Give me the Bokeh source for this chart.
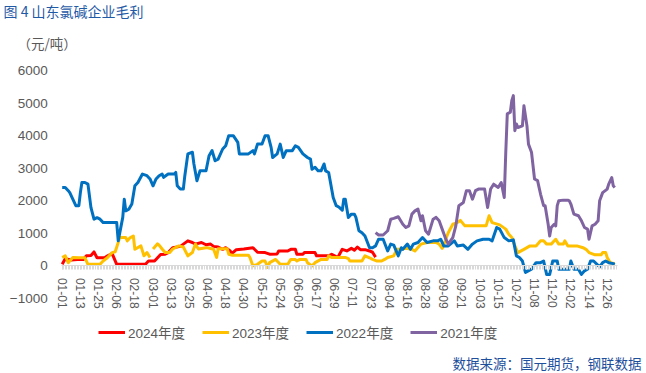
import pandas as pd
from bokeh.plotting import figure
from bokeh.models import Range1d, FixedTicker, Legend, LegendItem, Label
from bokeh.embed import file_html
from bokeh.resources import INLINE

# ---------------- data ----------------
dates = [d.strftime("%m-%d") for d in pd.date_range("2024-01-01", "2024-12-31")]
label_days = list(range(0, 366, 12))
y_ticks = [-1000, 0, 1000, 2000, 3000, 4000, 5000, 6000]

# day-of-year index (0 = 01-01) and gross margin (元/吨)
y2024_day = [0, 2, 6, 10, 14, 16, 19, 21, 23, 28, 30, 33, 36, 55, 57, 61, 65, 68, 70, 73, 78, 83, 86,
             88, 92, 95, 98, 100, 103, 106, 108, 111, 112, 115, 120, 126, 129, 134, 137, 142, 143, 149,
             151, 154, 155, 159, 160, 167, 168, 176, 178, 182, 185, 188, 191, 193, 195, 197, 200, 203,
             205, 207]
y2024_val = [50, 220, 180, 200, 200, 310, 320, 430, 250, 250, 310, 380, 50, 50, 150, 150, 350, 360, 410,
             560, 600, 770, 720, 670, 720, 650, 670, 600, 580, 510, 560, 460, 380, 500, 520, 560, 420, 410,
             360, 370, 460, 460, 510, 510, 360, 360, 410, 410, 310, 310, 360, 260, 510, 460, 540, 480, 580,
             500, 500, 460, 420, 270]

y2023_day = [0, 2, 4, 7, 11, 15, 17, 25, 27, 30, 33, 35, 37, 38, 42, 43, 45, 47, 48, 52, 54, 56, 58, 59,
             60, 63, 64, 66, 68, 71, 73, 77, 80, 83, 86, 88, 90, 95, 96, 100, 102, 103, 109, 110, 112, 123,
             124, 126, 129, 132, 134, 136, 137, 141, 144, 149, 151, 154, 155, 157, 161, 162, 165, 167, 171,
             175, 176, 178, 187, 189, 190, 198, 200, 203, 205, 208, 211, 213, 215, 219, 221, 223, 227, 231,
             233, 237, 241, 247, 249, 251, 253, 255, 258, 261, 263, 266, 273, 280, 282, 284, 289, 293, 295,
             297, 299, 301, 305, 309, 313, 316, 318, 320, 323, 326, 328, 331, 332, 334, 340, 344, 346, 348,
             352, 356, 357, 359, 360, 362, 365]
y2023_val = [260, 310, 100, 260, 250, 250, 50, 50, 150, 260, 410, 435, 720, 870, 870, 770, 870, 920, 510,
             615, 310, 410, 260, float("nan"), 520, 680, 640, 520, 410, 410, 520, 615, 580, 310, 410, 670,
             520, 560, 560, 510, 260, 530, 530, 360, 330, 330, 260, 0, 50, 150, 150, -50, 100, 200, 50, 50,
             200, 200, 150, 200, 200, 100, 0, 100, 200, 200, 310, 260, 260, 225, 150, 150, 310, 250, 200,
             150, 150, 200, 260, 310, 510, 510, 540, 510, 460, 670, 720, 720, 670, 540, 770, 1020, 1280,
             1330, 1400, 1230, 1230, 1230, 1540, 1330, 1260, 1130, 975, 870, 615, 410, 510, 615, 615, 770,
             770, 670, 670, 820, 670, 670, 770, 615, 615, 560, 510, 410, 340, 340, 410, 410, 260, 100, 70]

y2022_day = [0, 2, 4, 5, 7, 9, 11, 12, 13, 15, 17, 19, 21, 23, 25, 27, 34, 36, 37, 40, 41, 42, 44, 46, 48,
             50, 53, 56, 58, 60, 62, 64, 66, 67, 70, 74, 75, 76, 78, 80, 81, 83, 86, 87, 89, 91, 95, 97, 99,
             101, 103, 106, 108, 110, 113, 116, 117, 123, 126, 127, 129, 132, 134, 136, 138, 139, 142, 144,
             146, 148, 152, 154, 156, 159, 162, 164, 165, 167, 169, 171, 173, 174, 176, 177, 179, 181, 183,
             185, 186, 187, 189, 191, 193, 194, 196, 198, 200, 203, 205, 207, 209, 212, 215, 217, 219, 222,
             224, 225, 228, 230, 232, 235, 238, 241, 245, 248, 250, 252, 255, 259, 261, 265, 268, 271, 274,
             278, 282, 284, 287, 289, 292, 295, 298, 300, 302, 304, 306, 310, 313, 316, 318, 320, 322, 324,
             327, 328, 335, 336, 338, 341, 343, 345, 347, 349, 351, 355, 357, 359, 361, 364, 365]
y2022_val = [2410, 2410, 2310, 2250, 2050, 1850, 1850, 2250, 2560, 2560, 2510, 1790, 1435, 1480, 1435,
             1330, 1330, 1330, 770, 1490, 2050, 1690, 1740, 1900, 2460, 2560, 2820, 2770, 2670, 2460, 2670,
             2770, 2820, 2720, 2820, 2820, 2870, 2460, 2360, 2360, 2770, 3440, 3490, 3130, 2615, 2920, 2920,
             3385, 3540, 3230, 3280, 3590, 3690, 4000, 4000, 3795, 3440, 3440, 3540, 3440, 3740, 3740, 4000,
             4000, 3640, 3330, 3440, 3740, 3330, 3540, 3540, 3690, 3640, 3440, 3330, 3280, 2970, 3030, 2920,
             2920, 3130, 2920, 2870, 2615, 2100, 1850, 1800, 1710, 2050, 2050, 1490, 1590, 1590, 1490, 1080,
             1020, 920, 560, 560, 615, 820, 820, 460, 670, 640, 310, 560, 510, 670, 510, 670, 720, 870, 720,
             770, 770, 820, 615, 615, 770, 615, 640, 510, 670, 770, 820, 820, 770, 1180, 1130, 870, 770, 800,
             310, 260, 150, -200, -100, 100, 100, 150, -260, -260, 150, 150, -100, -100, 150, -100, -100,
             -260, -150, -100, 150, 150, -30, 100, 150, 100, 70, 50]

y2021_day = [207, 209, 212, 215, 217, 219, 222, 225, 227, 229, 231, 233, 235, 237, 238, 240, 242, 245, 247,
             249, 251, 253, 255, 258, 260, 262, 265, 267, 269, 271, 273, 275, 279, 281, 283, 285, 288, 290,
             292, 293, 294, 296, 297, 298, 299, 300, 301, 304, 305, 307, 308, 310, 312, 314, 316, 318, 319,
             321, 322, 323, 325, 326, 327, 328, 331, 334, 335, 336, 338, 341, 343, 345, 347, 348, 350, 352,
             354, 355, 357, 360, 361, 363, 364, 365]
y2021_val = [1025, 950, 950, 1080, 1435, 1460, 1510, 1280, 1180, 1230, 1590, 1690, 1745, 1385, 1540, 1080,
             975, 1435, 1490, 1385, 1130, 870, 670, 870, 1230, 1850, 1950, 2310, 2310, 2050, 2310, 2360,
             2360, 1795, 2360, 2510, 2410, 2560, 2100, 3490, 4670, 4720, 5080, 5230, 4150, 4360, 4250, 4300,
             4920, 4300, 3740, 3490, 2670, 2620, 2200, 1850, 1850, 1280, 920, 1180, 1280, 1230, 1850, 2000,
             2020, 2020, 2000, 1900, 1590, 1540, 1385, 1180, 1130, 820, 1230, 1280, 1385, 2000, 2250, 2360,
             2510, 2715, 2460, 2410]

y2025_day = []
y2025_val = []

series = [
    ("2024年度", y2024_day, y2024_val, "#FF0000"),
    ("2023年度", y2023_day, y2023_val, "#FFC000"),
    ("2022年度", y2022_day, y2022_val, "#0070C0"),
    ("2021年度", y2021_day, y2021_val, "#8064A2"),
    ("", y2025_day, y2025_val, "#4BACC6"),
]

# ---------------- figure ----------------
LAT = "Liberation Sans, Noto Sans CJK SC"
CJK = "Noto Sans CJK SC"
GRAY = "#595959"

W, H = 646, 373
# frame covers the whole canvas; axes are placed at fixed locations
p = figure(width=W, height=H,
           x_range=Range1d(-40.76, 385.96),
           y_range=Range1d(-3302.6, 8149.1),
           output_backend="svg", toolbar_location=None,
           min_border_left=0, min_border_right=0, min_border_top=0, min_border_bottom=0)
p.outline_line_color = None
p.xgrid.visible = False
p.ygrid.visible = False
p.background_fill_color = "white"
p.border_fill_color = "white"

xa = p.xaxis[0]
xa.fixed_location = 0
xa.bounds = (-0.35, 367)
xa.ticker = FixedTicker(ticks=label_days, minor_ticks=list(range(0, 367)))
xa.major_label_overrides = {d: dates[d] for d in label_days}
xa.major_label_orientation = "vertical"
xa.axis_line_color = "#d9d9d9"
xa.axis_line_width = 1
xa.major_tick_line_color = "#d9d9d9"
xa.minor_tick_line_color = "#d9d9d9"
xa.major_tick_in = 0
xa.major_tick_out = 4
xa.minor_tick_in = 0
xa.minor_tick_out = 4
xa.major_label_standoff = 8
xa.major_label_text_font = LAT
xa.major_label_text_font_size = "12px"
xa.major_label_text_color = GRAY

ya = p.yaxis[0]
ya.fixed_location = -0.35
ya.ticker = FixedTicker(ticks=y_ticks, minor_ticks=[])
ya.axis_line_color = None
ya.major_tick_line_color = None
ya.minor_tick_line_color = None
ya.major_tick_out = 0
ya.major_label_standoff = 14
ya.major_label_text_font = LAT
ya.major_label_text_font_size = "13.5px"
ya.major_label_text_color = GRAY

items = []
for name, days, vals, col in series:
    r = p.line(x=days, y=vals, line_color=col, line_width=3, line_join="round")
    items.append(LegendItem(label=name if name else " ", renderers=[r]))

legend = Legend(items=items, orientation="horizontal", location=(98, 31),
                glyph_width=27, glyph_height=14, label_standoff=3, spacing=17,
                padding=0, margin=0, border_line_color=None, background_fill_alpha=0,
                label_text_font=LAT, label_text_font_size="13.5px", label_text_color=GRAY,
                label_height=20)
p.add_layout(legend, "center")

p.add_layout(Label(x=3, y=H - 10, x_units="screen", y_units="screen", text="图 4  山东氯碱企业毛利",
                   text_baseline="middle", text_align="left", text_font=CJK, text_font_size="14px",
                   text_color="#1f5aa6"))
p.add_layout(Label(x=17, y=H - 42, x_units="screen", y_units="screen", text="（元/吨）",
                   text_baseline="middle", text_align="left", text_font=CJK, text_font_size="13.5px",
                   text_color=GRAY))
p.add_layout(Label(x=641, y=11, x_units="screen", y_units="screen", text="数据来源：国元期货，钢联数据",
                   text_baseline="middle", text_align="right", text_font=CJK, text_font_size="13.5px",
                   text_color="#1e4f9c"))

open("out.html", "w").write(file_html(p, INLINE))
